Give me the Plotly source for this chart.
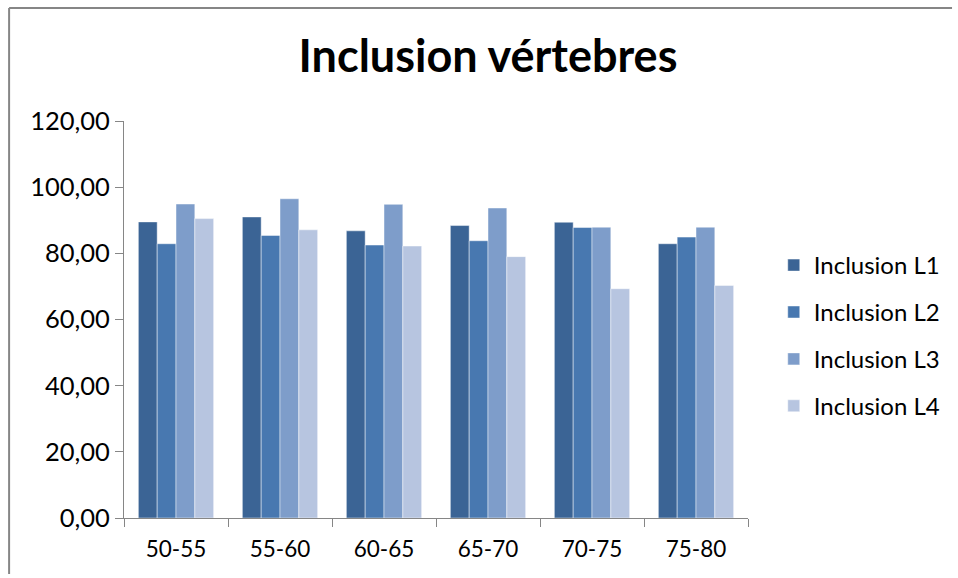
import plotly.graph_objects as go

categories = ["50-55", "55-60", "60-65", "65-70", "70-75", "75-80"]
series_names = ["Inclusion L1", "Inclusion L2", "Inclusion L3", "Inclusion L4"]
l1 = [89.5, 91.0, 86.8, 88.4, 89.4, 82.9]
l2 = [82.9, 85.4, 82.5, 83.8, 87.8, 84.9]
l3 = [94.9, 96.5, 94.8, 93.7, 87.9, 87.9]
l4 = [90.5, 87.1, 82.2, 79.0, 69.3, 70.3]
y_ticks = [0, 20, 40, 60, 80, 100, 120]

colors = ["#3B6495", "#4878B0", "#7E9DCA", "#B7C5E0"]
font_family = "Lato, Calibri, Arial, sans-serif"

fig = go.Figure()
for name, vals, col in zip(series_names, [l1, l2, l3, l4], colors):
    fig.add_trace(go.Bar(
        x=categories, y=vals, name=name, legendgroup=name,
        marker=dict(color=col, line=dict(color="rgba(255,255,255,0.45)", width=1)),
    ))

W, H = 958, 574
L, R, T, B = 124, 754, 121, 518
pw, ph = R - L, B - T

def px(x):
    return (x - L) / pw

def py(y):
    return (B - y) / ph

fig.update_layout(
    width=W, height=H,
    margin=dict(l=L, r=W - R, t=T, b=H - B, pad=0),
    paper_bgcolor="white", plot_bgcolor="white",
    separators=", ",
    barmode="group", bargap=0.276, bargroupgap=0,
    font=dict(family=font_family, size=22, color="#000000"),
    title=dict(text="<b>Inclusion vértebres</b>", x=488 / W, xanchor="center",
               y=1 - 56 / H, yanchor="middle",
               font=dict(family=font_family, size=45, color="#000000")),
    legend=dict(x=px(780), xanchor="left", y=py(243), yanchor="top",
                font=dict(family=font_family, size=24, color="#000000"),
                tracegroupgap=12.7, itemwidth=30, bgcolor="rgba(0,0,0,0)"),
    xaxis=dict(type="category", showline=True, linecolor="#868686", linewidth=1,
               ticks="outside", tickson="boundaries", ticklen=8, tickcolor="#868686",
               showgrid=False, tickfont=dict(family=font_family, size=22.5), ticklabelstandoff=11),
    yaxis=dict(range=[0, 120], tickvals=y_ticks, tickformat=".2f",
               showline=True, linecolor="#868686", linewidth=1,
               ticks="outside", ticklen=8, tickcolor="#868686",
               showgrid=False, zeroline=False, tickfont=dict(family=font_family, size=25.5)),
    shapes=[
        dict(type="line", xref="paper", yref="paper",
             x0=px(8), y0=py(8), x1=px(960), y1=py(8),
             line=dict(color="#868686", width=2)),
        dict(type="line", xref="paper", yref="paper",
             x0=px(8), y0=py(8), x1=px(8), y1=py(580),
             line=dict(color="#868686", width=2)),
    ],
)

fig.write_html(
    "out.html",
    config={"displayModeBar": False},
    post_script=("document.body.style.margin='0';document.body.style.overflow='hidden';"
                 "document.documentElement.style.overflow='hidden';"),
)
